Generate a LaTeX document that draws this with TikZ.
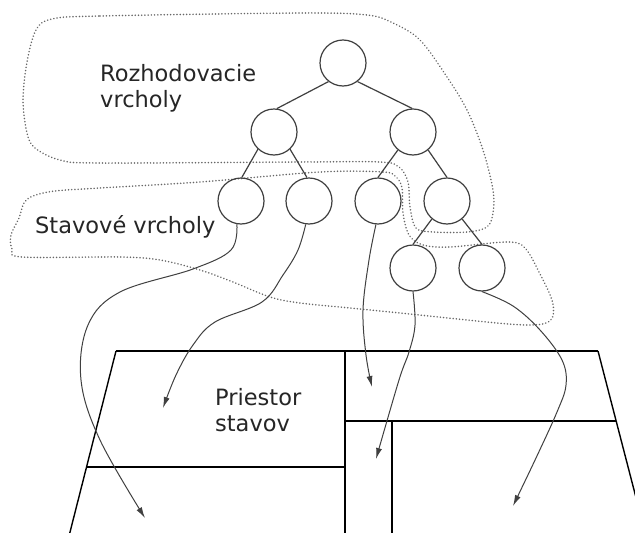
\documentclass[tikz,border=0pt]{standalone}
\usepackage{fontspec}
\setmainfont{DejaVu Sans}
\usetikzlibrary{arrows.meta}
\begin{document}
\begin{tikzpicture}[x=1pt,y=-1pt,
  vert/.style={circle,draw=black!75,line width=1.2pt,minimum size=46pt,inner sep=0},
  edge/.style={draw=black!75,line width=1.2pt},
  mapping/.style={draw=black!75,line width=1pt,-{Latex[length=11pt,width=6pt]}},
  region/.style={draw=black!60,line width=1.7pt,line cap=round,dash pattern=on 0.01pt off 3.2pt},
  plan/.style={draw=black,line width=1.4pt},
  lbl/.style={font=\fontsize{22.5}{26}\selectfont,text=black!85,align=left,inner sep=0}]
\useasboundingbox (0,0) rectangle (635,533);
\clip (0,0) rectangle (635,533);
\fill[white] (0,0) rectangle (635,533);

% dotted regions
\draw[region] plot[smooth cycle,tension=0.55] coordinates {
 (52,19) (100,16) (300,13) (367,15) (393,23) (420,40) (447,77) (467,110) (483,150)
 (493,190) (493,213) (487,227) (467,232) (433,232) (416,228) (410,207) (408,182)
 (399,167) (380,162) (300,162) (100,163) (60,160) (35,148) (27,133) (23,100) (27,62) (36,30)};
\draw[region] plot[smooth cycle,tension=0.55] coordinates {
 (320,172) (383,172) (396,177) (402,188) (403,213) (409,235) (423,245) (450,247)
 (507,242) (525,248) (540,274) (552,300) (553,316) (546,323) (530,325) (497,323)
 (400,313) (350,308) (300,303) (270,297) (233,282) (200,270) (160,260) (120,257)
 (22,257) (12,249) (11,235) (19,218) (24,203) (33,196) (55,191) (100,188) (200,182)};

% tree vertices
\node[vert] (r)  at (343,63) {};
\node[vert] (a)  at (274,132) {};
\node[vert] (b)  at (413,132) {};
\node[vert] (s1) at (241,201) {};
\node[vert] (s2) at (309,201) {};
\node[vert] (s3) at (378,201) {};
\node[vert] (s4) at (447,201) {};
\node[vert] (l1) at (413,268) {};
\node[vert] (l2) at (482,268) {};

\path[edge] (r.-128) -- (a.83);
\path[edge] (r.-52) -- (b.92);
\path[edge] (a.-133) -- (s1.88);
\path[edge] (a.-47) -- (s2.95);
\path[edge] (b.-130) -- (s3.90);
\path[edge] (b.-50) -- (s4.90);
\path[edge] (s4.-130) -- (l1.90);
\path[edge] (s4.-50) -- (l2.90);

% labels
\node[lbl,anchor=north west] (t1) at (100,64) {Rozhodovacie\\vrcholy};
\node[lbl,anchor=base west] (t2) at (35,233) {Stavové vrcholy};
\node[lbl,anchor=north west] (t3) at (215,388) {Priestor\\stavov};

% state space plan
\path[plan] (116,351) -- (598,351);
\path[plan] (116,351) -- (68,540);
\path[plan] (598,351) -- (647,540);
\path[plan] (87,467) -- (345,467);
\path[plan] (345,351) -- (345,540);
\path[plan] (345,421) -- (616,421);
\path[plan] (392,421) -- (392,540);

% arrow targets
\coordinate (e1) at (145,518);
\coordinate (e2) at (163,408);
\coordinate (e3) at (372,387);
\coordinate (e4) at (376,459);
\coordinate (e5) at (513,506);

\draw[mapping] plot[smooth,tension=0.6] coordinates {(s1.-100) (231,250) (193,269) (120,292) (88,325) (81,380) (100,440) (e1)};
\draw[mapping] plot[smooth,tension=0.6] coordinates {(s2.-98) (298,250) (283,275) (262,302) (215,322) (193,345) (176,375) (e2)};
\draw[mapping] plot[smooth,tension=0.6] coordinates {(s3.-95) (369,260) (363,310) (366,355) (e3)};
\draw[mapping] plot[smooth,tension=0.6] coordinates {(l1.-90) (415,325) (409,352) (399,380) (e4)};
\draw[mapping] plot[smooth,tension=0.6] coordinates {(l2.-90) (513,306) (540,330) (562,360) (566,385) (557,412) (536,458) (e5)};
\end{tikzpicture}
\end{document}
